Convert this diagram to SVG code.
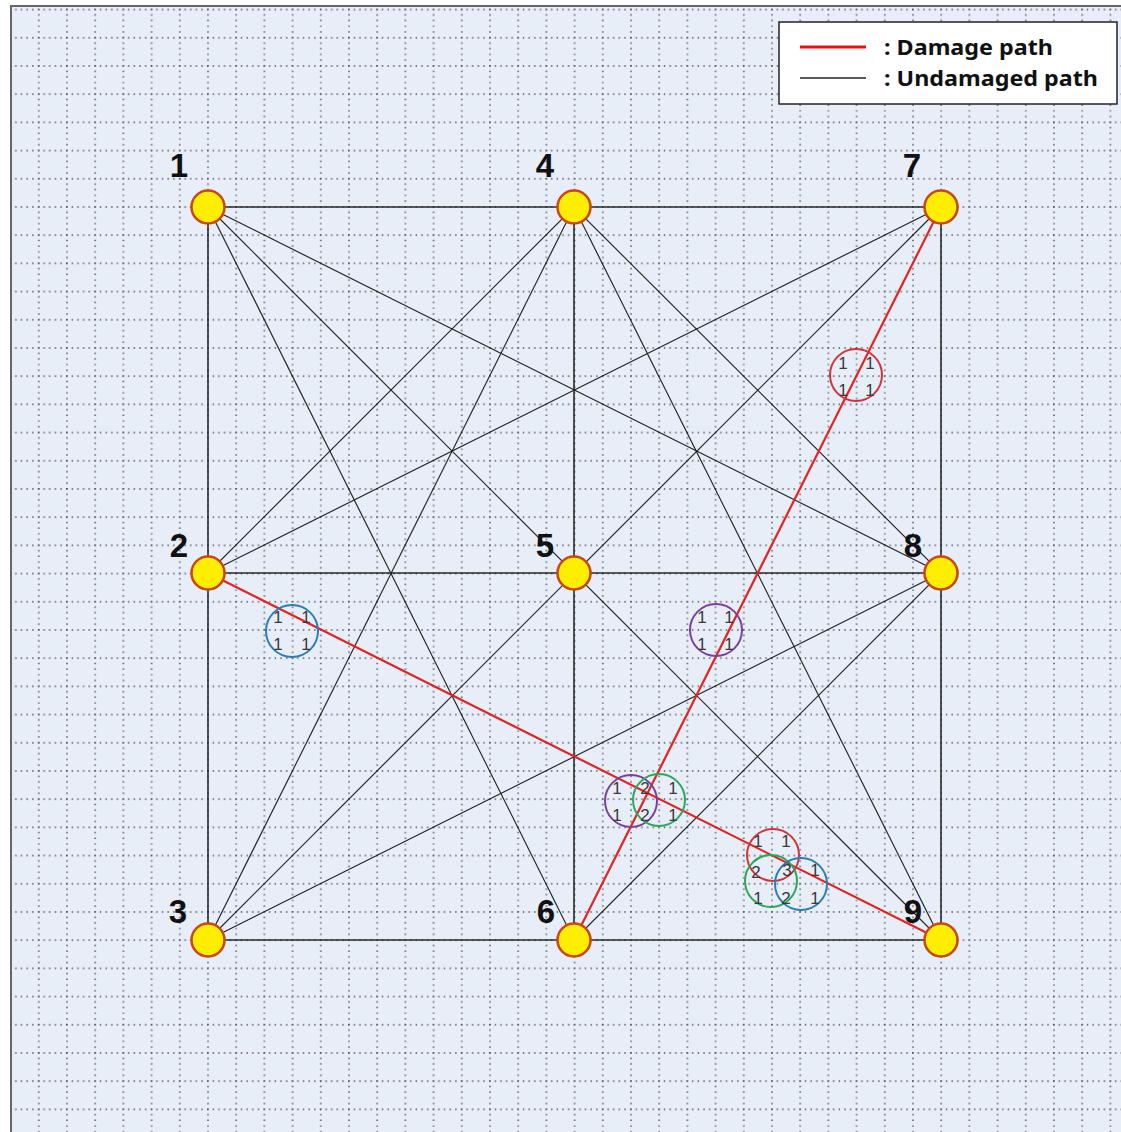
<svg xmlns="http://www.w3.org/2000/svg" width="1121" height="1132" viewBox="0 0 1121 1132">
  <defs>
    <pattern id="grid" patternUnits="userSpaceOnUse" x="37.8" y="36.8" width="28.2" height="28.2">
      <line x1="1" y1="0" x2="1" y2="28.2" class="dot"/>
      <line x1="0" y1="1" x2="28.2" y2="1" class="dot"/>
    </pattern>
  </defs>
  <style>
    .dot { stroke: #4a4a4a; stroke-width: 1.4; stroke-dasharray: 1.4 4.24; }
    .edge { stroke: #222; stroke-width: 1.15; fill: none; }
    .axis { stroke: #2a2a2a; stroke-width: 1.6; fill: none; }
    .dmg { stroke: #e02424; stroke-width: 2.2; fill: none; }
    .node circle { fill: #ffee00; stroke: #c8461a; stroke-width: 2.5; }
    .node text { font-family: "Liberation Sans", Arial, sans-serif; font-weight: bold; font-size: 33px; fill: #111; text-anchor: middle; }
    .mark circle { fill: none; stroke-width: 2; }
    .mark text { font-family: "Liberation Sans", Arial, sans-serif; font-size: 17px; fill: #3a3a3a; text-anchor: middle; }
    .legend text { font-family: "Noto Sans", "Liberation Sans", sans-serif; font-weight: bold; font-size: 22px; fill: #111; }
  </style>

  <!-- panel background with dotted grid -->
  <rect x="0" y="0" width="1121" height="1132" fill="#ffffff"/>
  <rect x="11" y="6" width="1110" height="1126" fill="#e8eef8"/>
  <rect x="12" y="7" width="1109" height="1125" fill="url(#grid)"/>
  <path d="M11,1132 V6 H1121" fill="none" stroke="#666" stroke-width="2"/>

  <!-- connectors -->
  <g id="connectors">
    <!-- outer square and middle cross -->
    <path class="axis" d="M208,207 H941 V940 H208 Z"/>
    <path class="axis" d="M208,573 H941 M574,207 V940"/>
    <!-- diagonals -->
    <path class="edge" d="M208,207 L941,940"/>
    <path class="edge" d="M208,940 L941,207"/>
    <path class="edge" d="M208,573 L574,207 L941,573 L574,940"/>
    <!-- knight moves -->
    <path class="edge" d="M208,207 L574,940"/>
    <path class="edge" d="M208,207 L941,573"/>
    <path class="edge" d="M208,940 L574,207"/>
    <path class="edge" d="M208,940 L941,573"/>
    <path class="edge" d="M941,207 L208,573"/>
    <path class="edge" d="M574,207 L941,940"/>
    <!-- damaged paths -->
    <path class="dmg" d="M941,207 L574,940"/>
    <path class="dmg" d="M208,573 L941,940"/>
  </g>

  <!-- damage marks on the paths -->
  <g id="mark-a" class="mark">
    <circle cx="856" cy="375" r="26" stroke="#d0343a"/>
    <text x="843" y="369">1</text><text x="870" y="369">1</text>
    <text x="843" y="396">1</text><text x="870" y="396">1</text>
  </g>
  <g id="mark-b" class="mark">
    <circle cx="292" cy="631" r="26" stroke="#2a7db5"/>
    <text x="278" y="623">1</text><text x="306" y="623">1</text>
    <text x="278" y="650">1</text><text x="306" y="650">1</text>
  </g>
  <g id="mark-c" class="mark">
    <circle cx="716" cy="630" r="26" stroke="#7b3f9e"/>
    <text x="702" y="623">1</text><text x="729" y="623">1</text>
    <text x="702" y="650">1</text><text x="729" y="650">1</text>
  </g>
  <g id="mark-d" class="mark">
    <circle cx="631" cy="801" r="26" stroke="#7b3f9e"/>
    <text x="617" y="794">1</text><text x="617" y="821">1</text>
  </g>
  <g id="mark-e" class="mark">
    <circle cx="659" cy="800" r="26" stroke="#2aa85a"/>
    <text x="645" y="794">2</text><text x="673" y="794">1</text>
    <text x="645" y="821">2</text><text x="673" y="821">1</text>
  </g>
  <g id="mark-f" class="mark">
    <circle cx="773" cy="855" r="26" stroke="#d0343a"/>
    <text x="758" y="847">1</text><text x="786" y="847">1</text>
  </g>
  <g id="mark-g" class="mark">
    <circle cx="771" cy="881" r="26" stroke="#2aa85a"/>
    <text x="756" y="878">2</text><text x="758" y="904">1</text>
  </g>
  <g id="mark-h" class="mark">
    <circle cx="801" cy="884" r="26" stroke="#2a7db5"/>
    <text x="787" y="876">3</text><text x="815" y="876">1</text>
    <text x="786" y="904">2</text><text x="815" y="904">1</text>
  </g>

  <!-- nodes -->
  <g id="node-1" class="node"><circle cx="208" cy="207" r="16.5"/><text x="179" y="177">1</text></g>
  <g id="node-4" class="node"><circle cx="574" cy="207" r="16.5"/><text x="545" y="177">4</text></g>
  <g id="node-7" class="node"><circle cx="941" cy="207" r="16.5"/><text x="912" y="177">7</text></g>
  <g id="node-2" class="node"><circle cx="208" cy="573" r="16.5"/><text x="179" y="557">2</text></g>
  <g id="node-5" class="node"><circle cx="574" cy="573" r="16.5"/><text x="545" y="557">5</text></g>
  <g id="node-8" class="node"><circle cx="941" cy="573" r="16.5"/><text x="913" y="557">8</text></g>
  <g id="node-3" class="node"><circle cx="208" cy="940" r="16.5"/><text x="178" y="923">3</text></g>
  <g id="node-6" class="node"><circle cx="574" cy="940" r="16.5"/><text x="546" y="923">6</text></g>
  <g id="node-9" class="node"><circle cx="941" cy="940" r="16.5"/><text x="913" y="923">9</text></g>

  <!-- legend -->
  <g id="legend" class="legend">
    <rect x="779" y="22" width="338" height="82" fill="#ffffff" stroke="#222" stroke-width="1.5"/>
    <line x1="800" y1="47" x2="866" y2="47" stroke="#ee1111" stroke-width="3"/>
    <line x1="800" y1="78" x2="866" y2="78" stroke="#222" stroke-width="1.5"/>
    <text x="884" y="55" textLength="169" lengthAdjust="spacingAndGlyphs">: Damage path</text>
    <text x="884" y="86" textLength="214" lengthAdjust="spacingAndGlyphs">: Undamaged path</text>
  </g>
</svg>
